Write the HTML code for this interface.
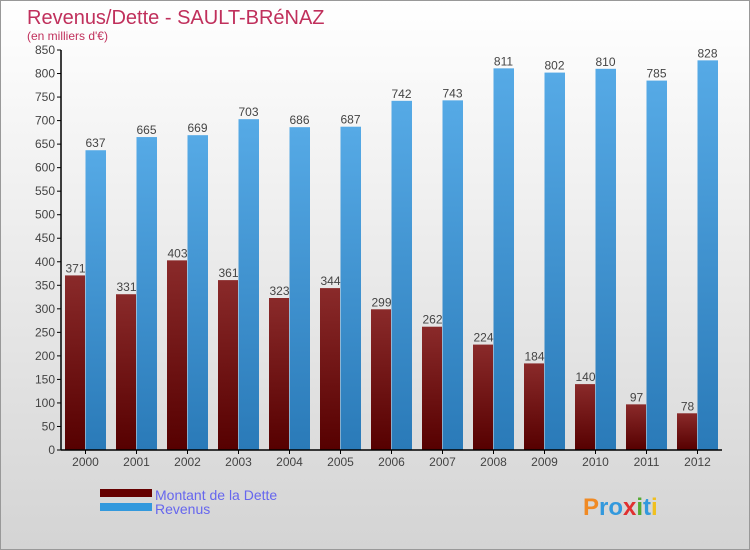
<!DOCTYPE html>
<html><head><meta charset="utf-8"><style>
body{margin:0;}
svg{display:block;font-family:"Liberation Sans",sans-serif;}
</style></head><body>
<svg width="750" height="550" viewBox="0 0 750 550">
<defs>
<linearGradient id="bg" x1="0" y1="0" x2="0" y2="1"><stop offset="0" stop-color="#ffffff"/><stop offset="1" stop-color="#d4d4d4"/></linearGradient>
<linearGradient id="red" x1="0" y1="0" x2="0" y2="1"><stop offset="0" stop-color="#8a2a2a"/><stop offset="1" stop-color="#560000"/></linearGradient>
<linearGradient id="blue" x1="0" y1="0" x2="0" y2="1"><stop offset="0" stop-color="#56aae6"/><stop offset="1" stop-color="#2a7ab8"/></linearGradient>
</defs>
<rect x="0.5" y="0.5" width="749" height="549" fill="url(#bg)" stroke="#999"/>
<text x="27" y="24" font-size="20" fill="#c0305c">Revenus/Dette - SAULT-BRéNAZ</text>
<text x="27" y="40" font-size="12" fill="#c0305c">(en milliers d'€)</text>
<g id="plot"></g>
<g>
<rect x="100" y="489" width="52" height="8" fill="#660000"/>
<text x="155" y="500" font-size="14" fill="#6666ee">Montant de la Dette</text>
<rect x="100" y="503" width="52" height="8" fill="#3399dd"/>
<text x="155" y="514" font-size="14" fill="#6666ee">Revenus</text>
</g>
<text x="583" y="515" font-size="24" font-weight="bold" fill="#3399dd"><tspan fill="#f08a24">P</tspan>ro<tspan fill="#e03030">x</tspan><tspan fill="#55aa33">i</tspan>t<tspan fill="#f0c020">i</tspan></text>
</svg>
<script>
const years=["2000","2001","2002","2003","2004","2005","2006","2007","2008","2009","2010","2011","2012"];
const dette=[371,331,403,361,323,344,299,262,224,184,140,97,78];
const revenus=[637,665,669,703,686,687,742,743,811,802,810,785,828];
const yTicks=[0,50,100,150,200,250,300,350,400,450,500,550,600,650,700,750,800,850];
const NS="http://www.w3.org/2000/svg";
const g=document.getElementById('plot');
const y=v=>450-v*400/850;
const xc=i=>85.5+51*i;
function mk(t,a){const e=document.createElementNS(NS,t);for(const k in a)e.setAttribute(k,a[k]);g.appendChild(e);return e;}
yTicks.forEach(v=>{
 const t=mk('line',{x1:57,x2:61,y1:y(v),y2:y(v),stroke:'#000'});
 
 
 const l=mk('text',{x:55,y:y(v)+4,'font-size':12,fill:'#444','text-anchor':'end'});l.textContent=v;
 
 
});
years.forEach((yr,i)=>{
 const c=xc(i);
 const b1=mk('rect',{x:c-20.5,y:y(dette[i]),width:20,height:450-y(dette[i]),fill:'url(#red)'});
 
 
 const b2=mk('rect',{x:c,y:y(revenus[i]),width:20.5,height:450-y(revenus[i]),fill:'url(#blue)'});
 
 
 const t1=mk('text',{x:c-10,y:y(dette[i])-3,'font-size':12,fill:'#444','text-anchor':'middle'});t1.textContent=dette[i];
 
 
 const t2=mk('text',{x:c+10,y:y(revenus[i])-3,'font-size':12,fill:'#444','text-anchor':'middle'});t2.textContent=revenus[i];
 
 
 const tk=mk('line',{x1:c,x2:c,y1:450,y2:454,stroke:'#000'});
 
 
 const xl=mk('text',{x:c,y:466,'font-size':12,fill:'#444','text-anchor':'middle'});xl.textContent=yr;
 
 
});
const ax=mk('line',{x1:61,x2:61,y1:50,y2:450,stroke:'#000','stroke-width':1.5});


const axx=mk('line',{x1:61,x2:722,y1:450,y2:450,stroke:'#000','stroke-width':1.5});


</script>
</body></html>
